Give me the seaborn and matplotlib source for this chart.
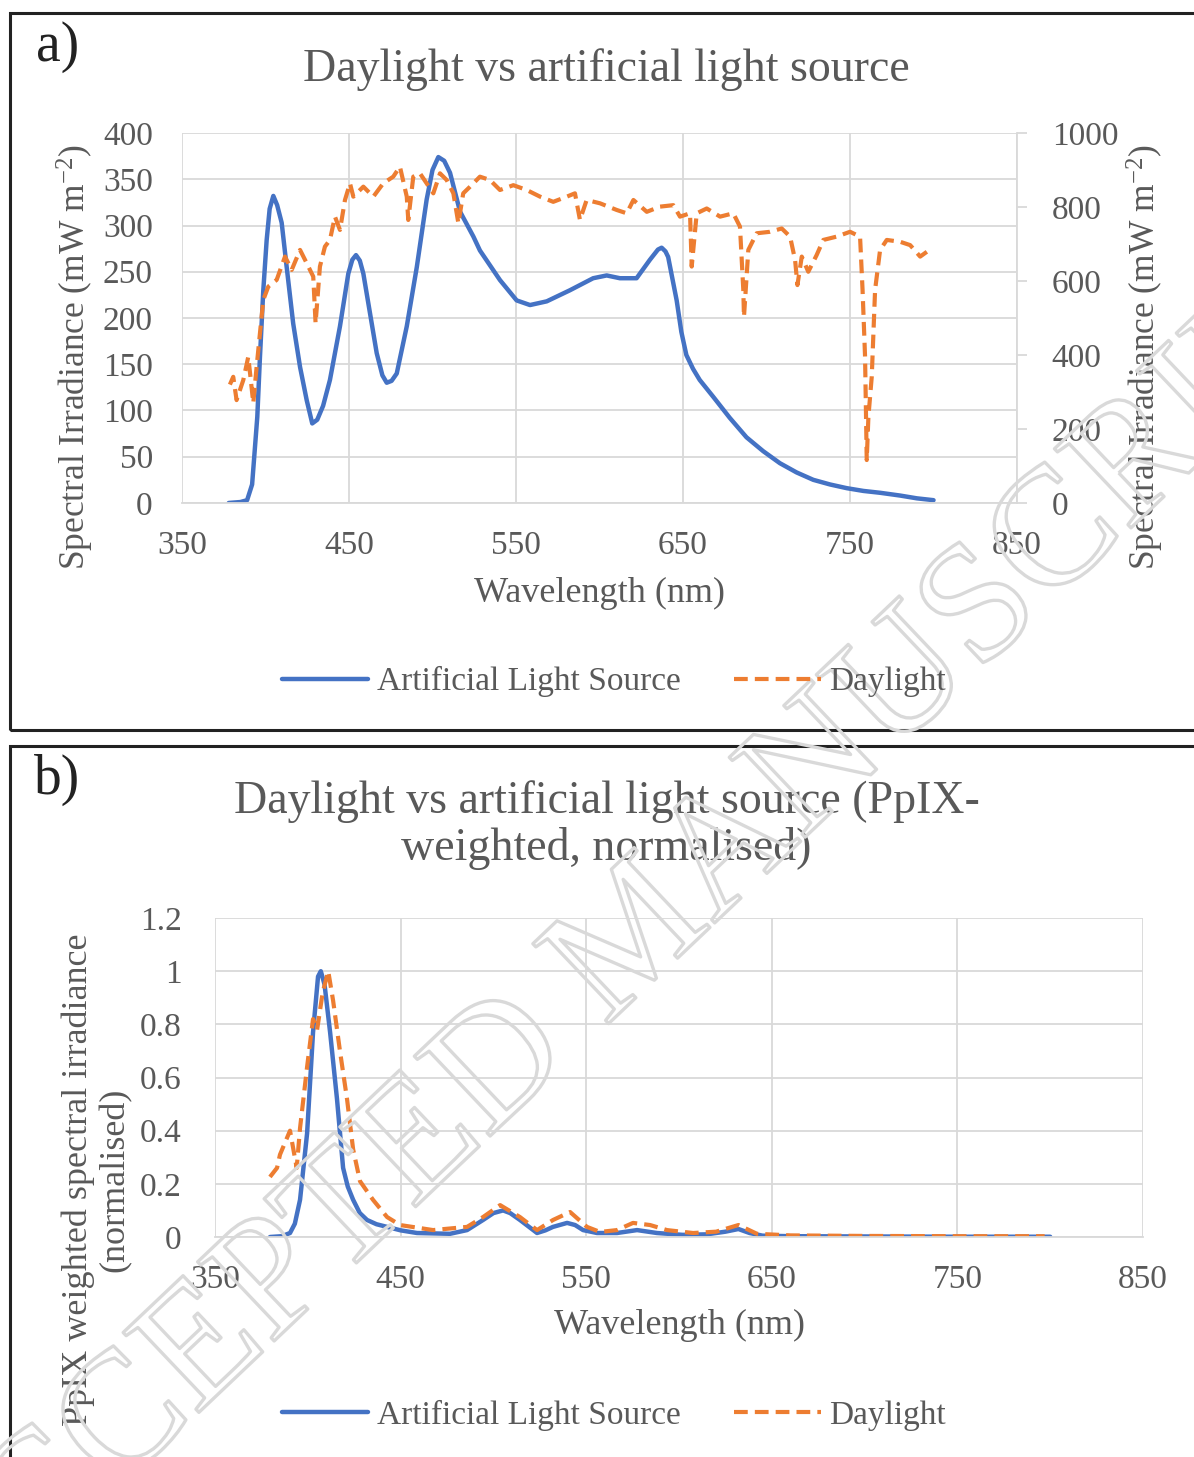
import matplotlib
matplotlib.use("Agg")
import matplotlib.pyplot as plt
import matplotlib.patheffects as pe
from matplotlib.patches import Rectangle
import seaborn as sns

# Panel a) - absolute spectra (left axis: artificial, right axis: daylight)
wl_art_a = [378, 385, 389, 392, 395.1, 396.7, 398.7, 400.7, 402.5, 404.7, 407, 409.7, 412.7, 416.6,
            420.7, 424.7, 428, 431, 434.5, 438.6, 444.6, 449.6, 452, 454.2, 456.5, 458.6, 462.6, 466.6,
            470, 472.6, 475.5, 478.6, 484.6, 490.6, 496.5, 500, 503.5, 507, 510.5, 516.5, 524.5, 528.4,
            540.4, 550.4, 558.4, 568.4, 582.3, 596.2, 604.3, 612.2, 622.2, 630.2, 635, 637.2, 639.5,
            641.1, 646.2, 649, 652, 656, 660, 668, 678, 688, 698, 708, 718, 728, 738, 748, 758, 768,
            780, 790, 800]
art_a = [0, 1, 3, 20, 93, 158, 230, 284, 318, 332, 322, 303, 255, 194,
         147, 111, 86, 90, 105, 133, 191, 248, 263, 268, 262, 248, 205, 162,
         138, 130, 132, 140, 191, 255, 328, 360, 374, 370, 357, 315, 288, 273,
         241, 219, 214, 218, 230, 243, 246, 243, 243, 263, 274, 276, 272,
         266, 219, 185, 160, 145, 133, 115, 92, 71, 56, 43, 33, 25, 20, 16, 13, 11,
         8, 5, 3]

wl_day_a = [378.7, 380.7, 382.7, 386.7, 389.7, 392.7, 394.7, 396.7, 398.7, 401.7, 406.7, 411.7, 415.7,
            420.7, 424.7, 428.6, 430, 432.6, 435.6, 438.6, 441.6, 444.6, 447.6, 450.6, 452.6, 458.6,
            464.6, 470.5, 476.5, 480.5, 484.6, 485.5, 488.5, 492.5, 496.5, 500.5, 504.5, 508.5, 512.5,
            515.5, 518.4, 522.5, 528.4, 534.4, 540.4, 548.4, 556.4, 564.4, 572.3, 580.4, 585.3, 588.3,
            592.3, 600.3, 610.3, 616.3, 620.3, 628.3, 636.2, 644.2, 648.2, 654.2, 655.2, 658.2, 664.2,
            672.2, 680.1, 684.1, 686.1, 686.5, 689.1, 694.1, 702.1, 709.1, 714.1, 717.1, 718.5, 721.1,
            725, 730, 734, 742, 750, 756, 757.5, 759, 760, 761, 763, 765, 768, 772, 780, 786, 792, 796]
day_a = [320, 341, 278, 332, 395, 270, 368, 459, 549, 585, 603, 666, 630,
         684, 648, 612, 486, 639, 693, 711, 774, 738, 819, 864, 828, 855,
         828, 864, 882, 909, 828, 765, 882, 891, 864, 837, 891, 873, 837,
         756, 837, 855, 882, 873, 846, 859, 846, 828, 814, 828, 837, 765,
         819, 810, 792, 783, 819, 787, 801, 805, 774, 783, 639, 783, 796,
         774, 783, 747, 576, 503, 684, 729, 733, 742, 720, 657, 589, 666,
         625, 670, 711, 720, 733, 720, 576, 395, 116, 233, 341, 576, 684, 711, 706, 697, 666, 679]

# Panel b) - PpIX weighted, normalised
wl_art_b = [379.6, 386, 390.4, 393, 395.8, 399.6, 402.8, 405.5, 407, 409, 412, 415.7, 419, 421.5,
            424.4, 428, 431.9, 437, 442.7, 450, 458.8, 476.6, 485.8, 494.4, 500, 505.2, 509, 514.3,
            523.5, 528, 532.1, 539.7, 544, 548.3, 555.8, 566.6, 577.4, 588.1, 602, 615, 625, 632,
            638, 645, 660, 700, 750, 800]
art_b = [0, 0.003, 0.015, 0.05, 0.14, 0.39, 0.77, 0.98, 1.0, 0.95, 0.77, 0.52, 0.26, 0.19,
         0.14, 0.09, 0.064, 0.048, 0.038, 0.025, 0.015, 0.012, 0.026, 0.064, 0.09, 0.1, 0.09, 0.064,
         0.015, 0.025, 0.038, 0.053, 0.045, 0.026, 0.015, 0.015, 0.026, 0.015, 0.008, 0.01, 0.02, 0.03,
         0.015, 0.005, 0.003, 0.002, 0.001, 0.001]

wl_day_b = [379.6, 383.4, 385, 390.4, 394, 395.8, 399.6, 402.8, 405, 408, 411, 413.6, 417.3, 421.1,
            424.4, 428.1, 435.1, 442.7, 449.7, 467.5, 485.8, 494.4, 503.6, 514.3, 523.5, 532.1, 541.3,
            550.4, 557.4, 566.6, 575.2, 584.4, 593.5, 607.6, 620, 632, 642, 660, 700, 750, 797]
day_b = [0.226, 0.26, 0.31, 0.40, 0.26, 0.41, 0.64, 0.82, 0.78, 0.92, 1.0, 0.89, 0.70, 0.52,
         0.33, 0.21, 0.14, 0.075, 0.045, 0.026, 0.038, 0.075, 0.12, 0.075, 0.026, 0.064, 0.094,
         0.038, 0.019, 0.026, 0.053, 0.045, 0.026, 0.015, 0.02, 0.045, 0.012, 0.006, 0.004, 0.003, 0.003]

x_ticks = [350, 450, 550, 650, 750, 850]
ya_ticks = [0, 50, 100, 150, 200, 250, 300, 350, 400]
ya_right_ticks = [0, 200, 400, 600, 800, 1000]
yb_ticks = [0, 0.2, 0.4, 0.6, 0.8, 1.0, 1.2]
yb_labels = ["0", "0.2", "0.4", "0.6", "0.8", "1", "1.2"]

BLUE = "#4472C4"
ORANGE = "#ED7D31"
GRID = "#d9d9d9"
TXT = "#595959"
TICK_FS = 24
LABEL_FS = 26
TITLE_FS = 33
LEG_FS = 24

sns.set_style("white")
plt.rcParams["font.family"] = ["Liberation Serif", "DejaVu Serif"]
plt.rcParams["mathtext.fontset"] = "custom"
plt.rcParams["mathtext.rm"] = "Liberation Serif"
plt.rcParams["mathtext.it"] = "Liberation Serif:italic"

fig = plt.figure(figsize=(11.94, 14.57), dpi=100)

# panel frames
fig.patches.append(Rectangle((0.0084, 0.499), 1.2, 0.492, transform=fig.transFigure,
                             fill=False, edgecolor="#222222", lw=2.2))
fig.patches.append(Rectangle((0.0084, -0.2), 1.2, 0.688, transform=fig.transFigure,
                             fill=False, edgecolor="#222222", lw=2.2))

dash = (0, (3.3, 1.7))


def style_axes(ax):
    ax.grid(True, color=GRID, lw=1.3)
    ax.set_axisbelow(True)
    for s in ["top", "left", "right"]:
        ax.spines[s].set_visible(False)
    ax.spines["bottom"].set_color(GRID)
    ax.spines["bottom"].set_linewidth(1.3)
    ax.tick_params(axis="both", length=0, colors=TXT, labelsize=TICK_FS)
    ax.set_xlabel("")
    ax.set_ylabel("")


# ---------- panel a ----------
ax1 = fig.add_axes([0.1524, 0.6548, 0.6994, 0.2539])
sns.lineplot(x=wl_art_a, y=art_a, ax=ax1, color=BLUE, lw=3.2, label="Artificial Light Source", legend=False)
ax1.set_xlim(350, 850)
ax1.set_ylim(0, 400)
ax1.set_xticks(x_ticks)
ax1.set_yticks(ya_ticks)
style_axes(ax1)
ax1.tick_params(axis="y", pad=21)
ax1.tick_params(axis="x", pad=20)

ax1r = ax1.twinx()
sns.lineplot(x=wl_day_a, y=day_a, ax=ax1r, color=ORANGE, lw=3, linestyle=dash, label="Daylight", legend=False)
ax1r.set_ylim(0, 1000)
ax1r.set_yticks(ya_right_ticks)
ax1r.grid(False)
for s in ["top", "left", "bottom"]:
    ax1r.spines[s].set_visible(False)
ax1r.spines["right"].set_color(GRID)
ax1r.spines["right"].set_linewidth(1.3)
ax1r.tick_params(axis="y", length=7, width=1.3, color=GRID, labelcolor=TXT, labelsize=TICK_FS, pad=18)
ax1r.set_ylabel("")

fig.text(0.048, 0.968, "a)", fontsize=40, color="#222222", ha="center", va="center")
fig.text(0.508, 0.952, "Daylight vs artificial light source", fontsize=TITLE_FS, color=TXT,
         ha="center", va="center")
fig.text(0.502, 1 - 593 / 1457, "Wavelength (nm)", fontsize=LABEL_FS, color=TXT, ha="center", va="center")
fig.text(0.0628, 0.755, r"Spectral Irradiance (mW m$^{-2}$)", fontsize=25.5, color=TXT,
         rotation=90, ha="center", va="center")
fig.text(0.959, 0.755, r"Spectral Irradiance (mW m$^{-2}$)", fontsize=25.5, color=TXT,
         rotation=90, ha="center", va="center")

h1, l1 = ax1.get_legend_handles_labels()
h2, l2 = ax1r.get_legend_handles_labels()
leg = fig.legend(h1 + h2, l1 + l2, loc="center", bbox_to_anchor=(0.514, 0.532), ncol=2, frameon=False,
                 fontsize=LEG_FS, handlelength=2.6, columnspacing=1.6, handletextpad=0.25)
for t in leg.get_texts():
    t.set_color(TXT)

# ---------- panel b ----------
ax2 = fig.add_axes([0.1801, 0.1510, 0.7772, 0.2189])
sns.lineplot(x=wl_art_b, y=art_b, ax=ax2, color=BLUE, lw=3.2, label="Artificial Light Source", legend=False)
sns.lineplot(x=wl_day_b, y=day_b, ax=ax2, color=ORANGE, lw=3, linestyle=dash, label="Daylight", legend=False)
ax2.set_xlim(350, 850)
ax2.set_ylim(0, 1.2)
ax2.set_xticks(x_ticks)
ax2.set_yticks(yb_ticks)
ax2.set_yticklabels(yb_labels)
style_axes(ax2)
ax2.tick_params(axis="y", pad=24)
ax2.tick_params(axis="x", pad=20)

fig.text(0.048, 0.4646, "b)", fontsize=40, color="#222222", ha="center", va="center")
fig.text(0.508, 0.4335, "Daylight vs artificial light source (PpIX-\nweighted, normalised)", fontsize=TITLE_FS,
         color=TXT, ha="center", va="center", linespacing=1.12)
fig.text(0.569, 1 - 1325 / 1457, "Wavelength (nm)", fontsize=LABEL_FS, color=TXT, ha="center", va="center")
fig.text(0.081, 0.19, "PpIX weighted spectral irradiance\n(normalised)", fontsize=26, color=TXT,
         rotation=90, ha="center", va="center", multialignment="center", linespacing=1.15)

h, l = ax2.get_legend_handles_labels()
leg2 = fig.legend(h, l, loc="center", bbox_to_anchor=(0.514, 1 - 1415 / 1457), ncol=2, frameon=False,
                  fontsize=LEG_FS, handlelength=2.6, columnspacing=1.6, handletextpad=0.25)
for t in leg2.get_texts():
    t.set_color(TXT)

# watermark
fig.text(0.536, 0.356, "ACCEPTED MANUSCRIPT", fontsize=121, rotation=43.5, ha="center", va="center",
         color=(1, 1, 1, 0), path_effects=[pe.Stroke(linewidth=2.4, foreground="#d9d9d9")])

fig.savefig("out.png", dpi=100)
